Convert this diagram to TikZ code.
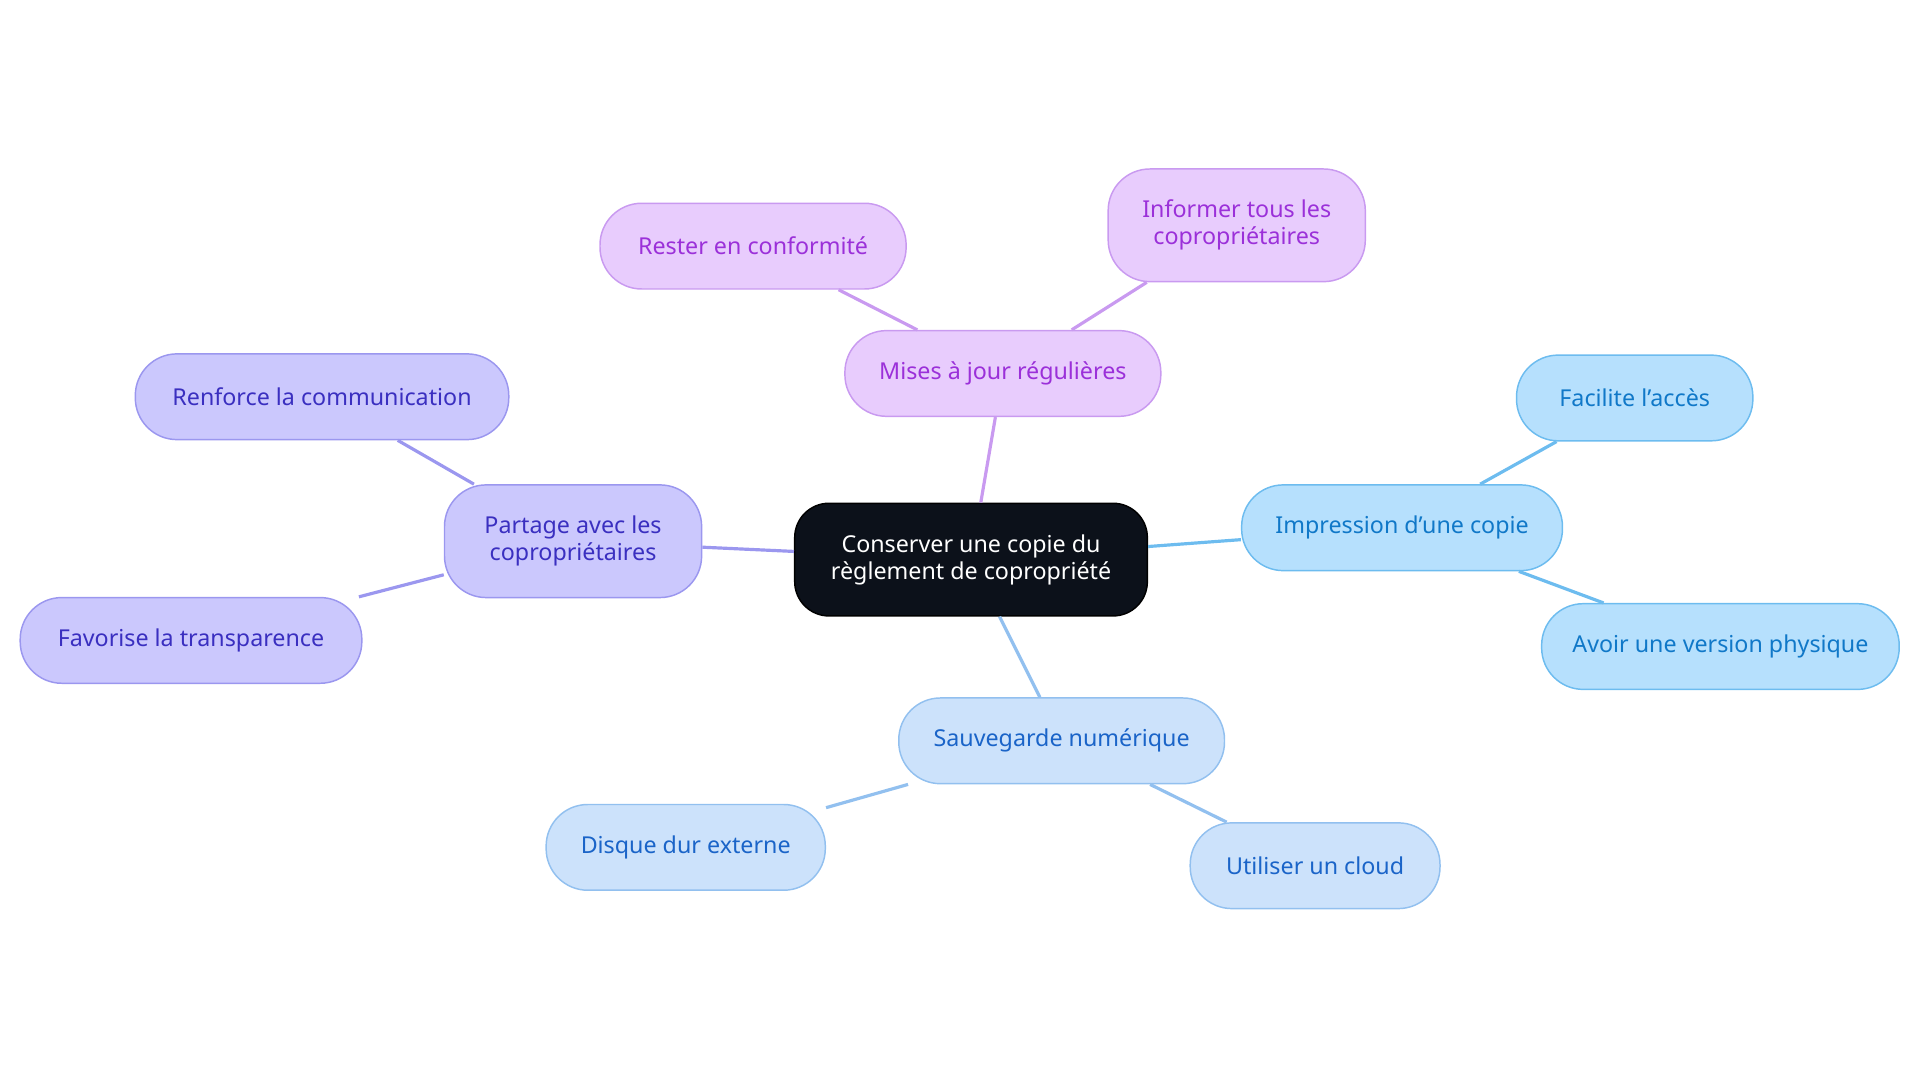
\documentclass[tikz,border=0pt]{standalone}
\usepackage{fontspec}
\setmainfont{Noto Sans}
\definecolor{pf}{HTML}{E8CCFD}\definecolor{pb}{HTML}{C99AF0}\definecolor{pt}{HTML}{9B30D9}
\definecolor{vf}{HTML}{CBC8FD}\definecolor{vb}{HTML}{9B97EF}\definecolor{vt}{HTML}{3A2FC0}
\definecolor{cf}{HTML}{B6E0FD}\definecolor{cb}{HTML}{6DBCEF}\definecolor{ct}{HTML}{1078C8}
\definecolor{bf}{HTML}{CCE2FB}\definecolor{bb}{HTML}{92C0EF}\definecolor{bt}{HTML}{1A64C8}
\definecolor{dk}{HTML}{0C111A}
\begin{document}
\begin{tikzpicture}[x=0.5pt,y=-0.5pt,
 box/.style={draw,rounded corners=17pt,align=center,font=\fontsize{9.5pt}{11pt}\selectfont,inner sep=0pt,line width=0.6pt},
 P/.style={box,fill=pf,draw=pb,text=pt},
 V/.style={box,fill=vf,draw=vb,text=vt},
 C/.style={box,fill=cf,draw=cb,text=ct},
 B/.style={box,fill=bf,draw=bb,text=bt},
 e/.style={line width=1.3pt}]
\useasboundingbox (0,0) rectangle (1568,884);
\newcommand{\bx}[6]{\node[#1,minimum width=#4*0.5pt,minimum height=#5*0.5pt] (#6) at (#2,#3) {#6text};}
\node[box,fill=dk,draw=black,text=white,minimum width=144pt,minimum height=46pt,rounded corners=14pt] (c) at (793,457) {Conserver une copie du\\règlement de copropriété};
\node[P,minimum width=129pt,minimum height=35pt] (m) at (819,305) {Mises à jour régulières};
\node[P,minimum width=125pt,minimum height=35pt] (m1) at (615,201) {Rester en conformité};
\node[P,minimum width=105pt,minimum height=46pt] (m2) at (1010,184) {Informer tous les\\copropriétaires};
\node[V,minimum width=105pt,minimum height=46pt] (p) at (468,442) {Partage avec les\\copropriétaires};
\node[V,minimum width=152.5pt,minimum height=35pt] (p1) at (263,324) {Renforce la communication};
\node[V,minimum width=139.5pt,minimum height=35pt] (p2) at (156,523) {Favorise la transparence};
\node[C,minimum width=131pt,minimum height=35pt] (i) at (1145,431) {Impression d'une copie};
\node[C,minimum width=96.5pt,minimum height=35pt] (i1) at (1335,325) {Facilite l'accès};
\node[C,minimum width=146pt,minimum height=35pt] (i2) at (1405,528) {Avoir une version physique};
\node[B,minimum width=133pt,minimum height=35pt] (s) at (867,605) {Sauvegarde numérique};
\node[B,minimum width=114pt,minimum height=35pt] (s1) at (560,692) {Disque dur externe};
\node[B,minimum width=102pt,minimum height=35pt] (s2) at (1074,707) {Utiliser un cloud};
\begin{scope}[on background layer/.try]
\end{scope}
\draw[e,pb] (c) -- (m); \draw[e,pb] (m) -- (m1); \draw[e,pb] (m) -- (m2);
\draw[e,vb] (c) -- (p); \draw[e,vb] (p) -- (p1); \draw[e,vb] (p) -- (p2);
\draw[e,cb] (c) -- (i); \draw[e,cb] (i) -- (i1); \draw[e,cb] (i) -- (i2);
\draw[e,bb] (c) -- (s); \draw[e,bb] (s) -- (s1); \draw[e,bb] (s) -- (s2);
\end{tikzpicture}
\end{document}
